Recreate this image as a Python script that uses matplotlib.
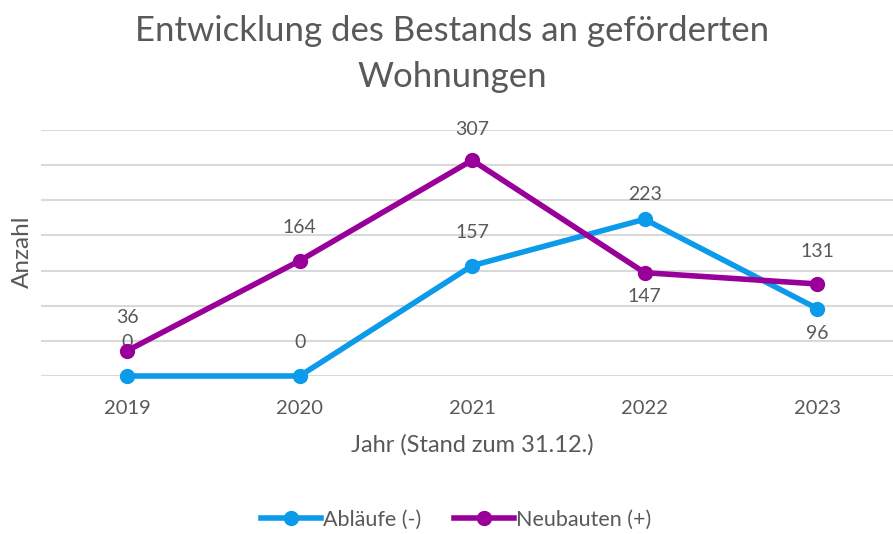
import matplotlib
matplotlib.use("Agg")
import matplotlib.pyplot as plt
from matplotlib.lines import Line2D

plt.rcParams['font.family'] = ['Lato', 'DejaVu Sans']

years = ["2019", "2020", "2021", "2022", "2023"]
ablaeufe = [0, 0, 157, 223, 96]
neubauten = [36, 164, 307, 147, 131]
# label offsets in points (positive = above)
abl_off = [24, 24, 24, 18, -18]
neu_off = [24, 24, 22, -17, 23]

blue = "#0c9bea"
purple = "#990099"
gray = "#595959"

W, H = 893, 534
fig = plt.figure(figsize=(W/100, H/100), dpi=100)
ax = fig.add_axes([41/W, (H-376)/H, (893-41)/W, (376-130)/H])
x = list(range(len(years)))
ax.set_xlim(-0.5, 4.44)
ax.set_ylim(0, 350)
ax.set_yticks(range(0, 351, 50))
ax.yaxis.grid(True, color="#d9d9d9", linewidth=1.5)
ax.set_yticklabels([])
ax.tick_params(axis='y', length=0)
ax.tick_params(axis='x', length=0, labelsize=14.5, labelcolor=gray, pad=17)
for s in ax.spines.values():
    s.set_visible(False)
ax.set_xticks(x)
ax.set_xticklabels(years)
ax.set_axisbelow(True)

ax.plot(x, ablaeufe, color=blue, lw=4, marker='o', ms=10, clip_on=False, zorder=3)
ax.plot(x, neubauten, color=purple, lw=4, marker='o', ms=10, clip_on=False, zorder=4)

for xi, v, o in zip(x, ablaeufe, abl_off):
    ax.annotate(str(v), (xi, v), xytext=(0, o), textcoords='offset points',
                ha='center', va='center', fontsize=14, color=gray)
for xi, v, o in zip(x, neubauten, neu_off):
    ax.annotate(str(v), (xi, v), xytext=(0, o), textcoords='offset points',
                ha='center', va='center', fontsize=14, color=gray)

fig.text(452/W, 1-54/H, "Entwicklung des Bestands an geförderten\nWohnungen",
         ha='center', va='center', fontsize=25, color=gray, linespacing=1.55)
fig.text(22/W, 1-252/H, "Anzahl", rotation=90, ha='center', va='center',
         fontsize=17.5, color=gray)
fig.text(472/W, 1-445/H, "Jahr (Stand zum 31.12.)", ha='center', va='center',
         fontsize=17, color=gray)

handles = [Line2D([], [], color=blue, lw=4, marker='o', ms=10),
           Line2D([], [], color=purple, lw=4, marker='o', ms=10)]
fig.legend(handles, ["Abläufe (-)", "Neubauten (+)"], loc='center',
           bbox_to_anchor=(456/W, 1-520/H), ncol=2, frameon=False,
           fontsize=15.5, labelcolor=gray, handlelength=2.8, handletextpad=0.1,
           columnspacing=1.5)

fig.savefig("out.png", dpi=100, facecolor="white")
